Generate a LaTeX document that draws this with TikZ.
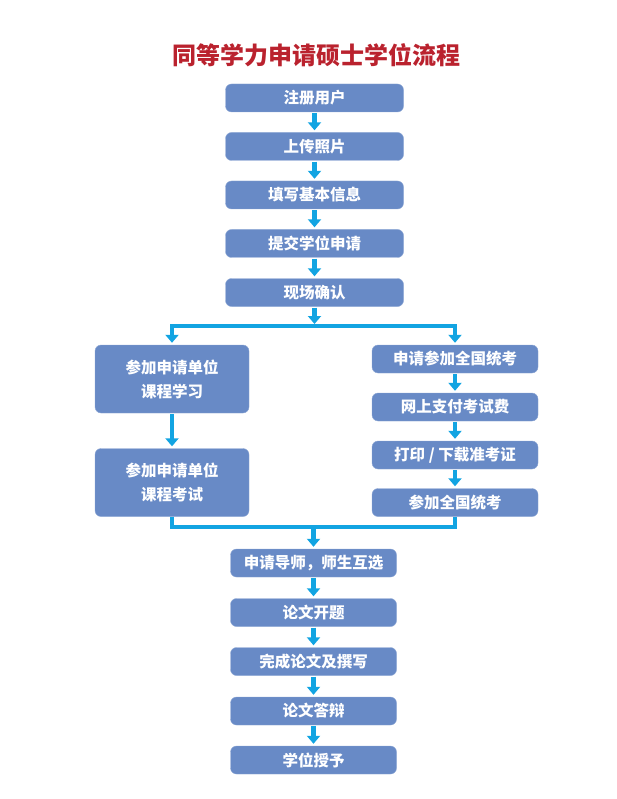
\documentclass[tikz,border=0pt]{standalone}
\usepackage{fontspec}
\newfontfamily\cjk{Noto Sans CJK SC}
\usetikzlibrary{positioning, arrows.meta, calc}

\definecolor{boxblue}{RGB}{104,138,198}
\definecolor{flowcyan}{RGB}{18,164,226}
\definecolor{titlered}{RGB}{186,34,46}

\tikzset{
  stepbox/.style={draw=boxblue!75!white, fill=boxblue, rounded corners=6pt,
    text=white, font=\cjk\bfseries\fontsize{15.5}{20}\selectfont,
    minimum height=28pt, inner sep=0pt, align=center},
  tallbox/.style={stepbox, minimum width=154pt, minimum height=68pt,
    font=\cjk\bfseries\fontsize{15.5}{24}\selectfont},
  flow/.style={flowcyan, line width=4.5pt, shorten >=2pt, shorten <=1pt,
    -{Triangle[width=13pt,length=8pt]}},
  joinline/.style={flowcyan, line width=4pt},
}

\begin{document}
\begin{tikzpicture}[x=1pt, y=-1pt]
\useasboundingbox (0,0) rectangle (617,799);

% Title
\node[font=\cjk\bfseries\fontsize{24}{28}\selectfont, text=titlered] (title) at (316,55) {同等学力申请硕士学位流程};

% Top column
\foreach \i/\y/\lab in {
  1/98/注册用户,
  2/146.5/上传照片,
  3/195/填写基本信息,
  4/243.5/提交学位申请,
  5/292.5/现场确认%
} {
  \node[stepbox, minimum width=178pt] (t\i) at (314.5,\y) {\lab};
}
\foreach \i [evaluate=\i as \j using int(\i+1)] in {1,...,4} {
  \draw[flow] (t\i.south) -- (t\j.north);
}

% Left branch (two tall boxes)
\node[tallbox] (l1) at (172,379) {参加申请单位\\课程学习};
\node[tallbox] (l2) at (172,482.5) {参加申请单位\\课程考试};
\draw[flow] (l1.south) -- (l2.north);

% Right branch
\foreach \i/\y/\lab in {
  1/359/{申请参加全国统考},
  2/407/{网上支付考试费},
  3/455/{打印 / 下载准考证},
  4/502.5/{参加全国统考}%
} {
  \node[stepbox, minimum width=166pt] (r\i) at (455,\y) {\lab};
}
\foreach \i [evaluate=\i as \j using int(\i+1)] in {1,...,3} {
  \draw[flow] (r\i.south) -- (r\j.north);
}

% Split
\coordinate (split) at (314.5,326);
\draw[flow] (t5.south) -- (split);
\draw[joinline] ([xshift=-2pt]l1.north |- split) -- ([xshift=2pt]r1.north |- split);
\draw[flow, shorten <=0pt] (l1.north |- split) -- (l1.north);
\draw[flow, shorten <=0pt] (r1.north |- split) -- (r1.north);

% Bottom column
\foreach \i/\y/\lab in {
  1/563/申请导师，师生互选,
  2/612.5/论文开题,
  3/661.5/完成论文及撰写,
  4/711/论文答辩,
  5/760/学位授予%
} {
  \node[stepbox, minimum width=166pt] (b\i) at (313.5,\y) {\lab};
}
\foreach \i [evaluate=\i as \j using int(\i+1)] in {1,...,4} {
  \draw[flow] (b\i.south) -- (b\j.north);
}

% Merge
\coordinate (merge) at (313.5,527);
\draw[joinline] (l2.south) -- (l2.south |- merge) -- (r4.south |- merge) -- (r4.south);
\draw[flow, shorten <=0pt] (merge) -- (b1.north);

\end{tikzpicture}
\end{document}
